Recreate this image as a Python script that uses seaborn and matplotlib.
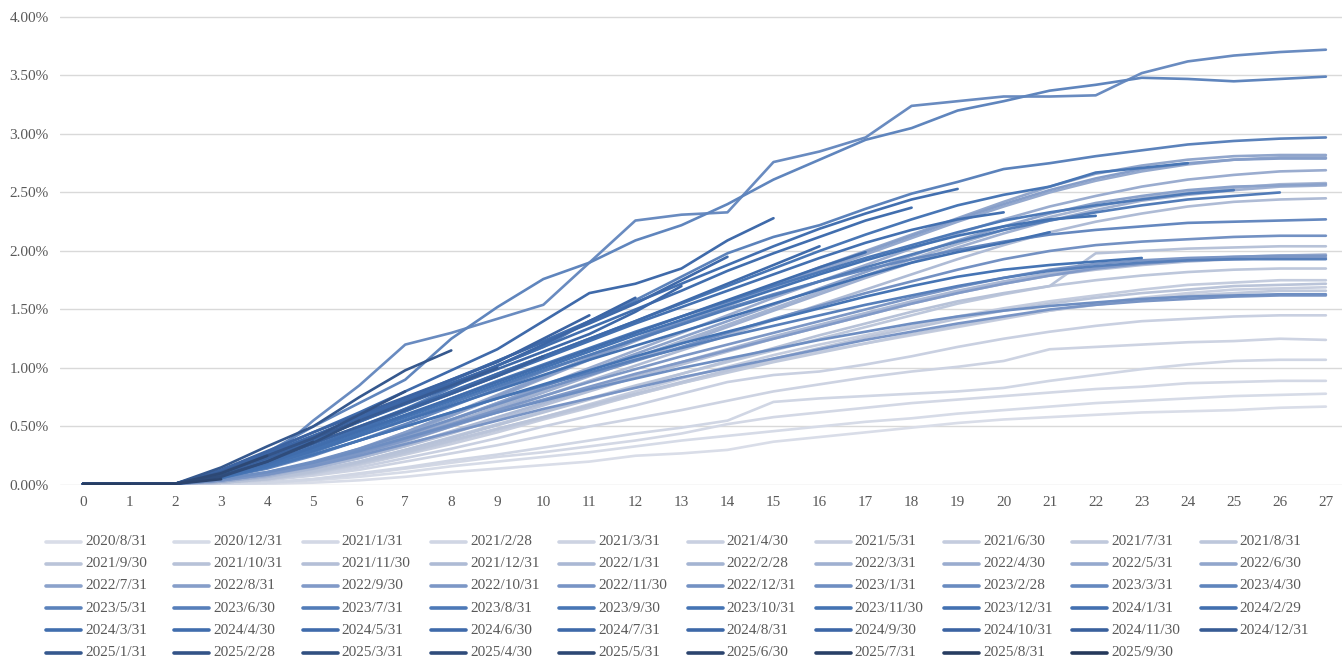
import pandas as pd
import seaborn as sns
import matplotlib.pyplot as plt
from matplotlib.lines import Line2D

# vintage names, in legend order
vintages = ["2020/8/31", "2020/12/31",
            "2021/1/31", "2021/2/28", "2021/3/31", "2021/4/30", "2021/5/31", "2021/6/30",
            "2021/7/31", "2021/8/31", "2021/9/30", "2021/10/31", "2021/11/30", "2021/12/31",
            "2022/1/31", "2022/2/28", "2022/3/31", "2022/4/30", "2022/5/31", "2022/6/30",
            "2022/7/31", "2022/8/31", "2022/9/30", "2022/10/31", "2022/11/30", "2022/12/31",
            "2023/1/31", "2023/2/28", "2023/3/31", "2023/4/30", "2023/5/31", "2023/6/30",
            "2023/7/31", "2023/8/31", "2023/9/30", "2023/10/31", "2023/11/30", "2023/12/31",
            "2024/1/31", "2024/2/29", "2024/3/31", "2024/4/30", "2024/5/31", "2024/6/30",
            "2024/7/31", "2024/8/31", "2024/9/30", "2024/10/31", "2024/11/30", "2024/12/31",
            "2025/1/31", "2025/2/28", "2025/3/31", "2025/4/30", "2025/5/31", "2025/6/30",
            "2025/7/31", "2025/8/31", "2025/9/30"]

# cumulative rate (%) by month on book
curves_2020 = [
    [0.01,0.01,0.01,0.01,0.01,0.02,0.04,0.07,0.11,0.14,0.17,0.20,0.25,0.27,0.30,0.37,0.41,0.45,0.49,0.53,0.56,0.58,0.60,0.62,0.63,0.64,0.66,0.67],
    [0.01,0.01,0.01,0.01,0.02,0.04,0.07,0.11,0.16,0.20,0.24,0.28,0.33,0.38,0.42,0.46,0.50,0.54,0.57,0.61,0.64,0.67,0.70,0.72,0.74,0.76,0.77,0.78],
]
curves_2021 = [
    [0.01,0.01,0.01,0.01,0.02,0.05,0.09,0.14,0.19,0.24,0.28,0.33,0.38,0.44,0.52,0.58,0.62,0.66,0.70,0.73,0.76,0.79,0.82,0.84,0.87,0.88,0.89,0.89],
    [0.01,0.01,0.01,0.01,0.02,0.05,0.10,0.15,0.21,0.26,0.32,0.38,0.44,0.49,0.55,0.71,0.74,0.76,0.78,0.80,0.83,0.89,0.94,0.99,1.03,1.06,1.07,1.07],
    [0.01,0.01,0.01,0.02,0.04,0.08,0.13,0.20,0.27,0.34,0.42,0.50,0.57,0.64,0.72,0.80,0.86,0.92,0.97,1.01,1.06,1.16,1.18,1.20,1.22,1.23,1.25,1.24],
    [0.01,0.01,0.01,0.02,0.04,0.09,0.15,0.23,0.31,0.40,0.50,0.59,0.68,0.78,0.88,0.94,0.97,1.03,1.10,1.18,1.25,1.31,1.36,1.40,1.42,1.44,1.45,1.45],
    [0.01,0.01,0.01,0.02,0.05,0.10,0.17,0.26,0.35,0.45,0.56,0.66,0.77,0.87,0.97,1.06,1.14,1.21,1.28,1.35,1.42,1.49,1.55,1.60,1.64,1.67,1.68,1.69],
    [0.01,0.01,0.01,0.02,0.05,0.11,0.19,0.28,0.38,0.48,0.58,0.69,0.80,0.91,1.01,1.11,1.20,1.28,1.36,1.44,1.51,1.57,1.62,1.67,1.71,1.73,1.75,1.75],
    [0.01,0.01,0.01,0.02,0.05,0.10,0.18,0.27,0.37,0.47,0.57,0.67,0.77,0.87,0.96,1.05,1.13,1.21,1.29,1.36,1.43,1.49,1.54,1.58,1.62,1.64,1.66,1.66],
    [0.01,0.01,0.01,0.02,0.06,0.12,0.20,0.30,0.41,0.52,0.63,0.74,0.85,0.95,1.05,1.15,1.25,1.35,1.45,1.55,1.63,1.70,1.75,1.79,1.82,1.84,1.85,1.85],
    [0.01,0.01,0.01,0.02,0.05,0.11,0.19,0.28,0.38,0.48,0.58,0.68,0.78,0.88,0.98,1.08,1.17,1.26,1.34,1.42,1.49,1.55,1.60,1.64,1.67,1.70,1.71,1.72],
    [0.01,0.01,0.01,0.02,0.06,0.12,0.20,0.30,0.40,0.51,0.62,0.73,0.84,0.95,1.06,1.17,1.28,1.38,1.48,1.57,1.64,1.70,1.98,2.00,2.02,2.03,2.04,2.04],
    [0.01,0.01,0.01,0.03,0.07,0.14,0.23,0.33,0.44,0.56,0.68,0.80,0.92,1.03,1.14,1.25,1.35,1.45,1.55,1.64,1.72,1.79,1.84,1.88,1.91,1.93,1.94,1.95],
    [0.01,0.01,0.01,0.03,0.07,0.15,0.25,0.37,0.50,0.63,0.76,0.89,1.02,1.15,1.28,1.41,1.54,1.67,1.80,1.93,2.05,2.16,2.25,2.32,2.38,2.42,2.44,2.45],
]
curves_2022 = [
    [0.01,0.01,0.01,0.03,0.07,0.14,0.23,0.34,0.46,0.58,0.70,0.82,0.94,1.05,1.16,1.27,1.37,1.47,1.57,1.66,1.74,1.81,1.86,1.90,1.93,1.95,1.96,1.97],
    [0.01,0.01,0.01,0.03,0.08,0.16,0.27,0.40,0.53,0.67,0.81,0.95,1.09,1.23,1.37,1.51,1.65,1.79,1.93,2.06,2.18,2.29,2.38,2.45,2.50,2.54,2.57,2.58],
    [0.01,0.01,0.01,0.03,0.08,0.16,0.26,0.38,0.51,0.65,0.79,0.93,1.07,1.21,1.35,1.49,1.63,1.77,1.90,2.03,2.15,2.26,2.35,2.43,2.48,2.52,2.55,2.56],
    [0.01,0.01,0.01,0.03,0.08,0.17,0.28,0.41,0.55,0.70,0.85,1.00,1.15,1.30,1.45,1.60,1.74,1.88,2.02,2.15,2.27,2.38,2.47,2.55,2.61,2.65,2.68,2.69],
    [0.01,0.01,0.01,0.04,0.09,0.18,0.30,0.44,0.59,0.75,0.91,1.07,1.23,1.38,1.53,1.68,1.83,1.97,2.11,2.25,2.38,2.50,2.60,2.68,2.74,2.78,2.80,2.80],
    [0.01,0.01,0.01,0.04,0.09,0.18,0.30,0.45,0.61,0.77,0.93,1.09,1.25,1.41,1.56,1.71,1.86,2.00,2.14,2.28,2.42,2.55,2.66,2.73,2.78,2.81,2.82,2.82],
    [0.01,0.01,0.01,0.04,0.09,0.18,0.29,0.42,0.56,0.70,0.84,0.98,1.12,1.26,1.40,1.54,1.68,1.82,1.96,2.09,2.21,2.32,2.41,2.47,2.52,2.55,2.56,2.57],
    [0.01,0.01,0.01,0.04,0.10,0.19,0.31,0.45,0.60,0.76,0.92,1.08,1.24,1.40,1.55,1.70,1.85,1.99,2.13,2.27,2.40,2.52,2.62,2.70,2.75,2.78,2.79,2.79],
    [0.01,0.01,0.01,0.04,0.09,0.17,0.27,0.38,0.50,0.62,0.73,0.84,0.95,1.05,1.15,1.25,1.35,1.45,1.55,1.64,1.72,1.79,1.85,1.89,1.92,1.93,1.94,1.94],
    [0.01,0.01,0.01,0.04,0.10,0.18,0.28,0.40,0.52,0.64,0.76,0.88,0.99,1.10,1.20,1.30,1.40,1.50,1.60,1.69,1.77,1.84,1.89,1.92,1.94,1.95,1.96,1.96],
    [0.01,0.01,0.01,0.04,0.09,0.16,0.25,0.35,0.45,0.55,0.65,0.74,0.83,0.92,1.00,1.08,1.16,1.24,1.31,1.38,1.44,1.50,1.54,1.57,1.59,1.61,1.62,1.62],
    [0.01,0.01,0.01,0.05,0.11,0.20,0.31,0.43,0.56,0.69,0.82,0.94,1.06,1.18,1.30,1.42,1.53,1.64,1.74,1.84,1.93,2.00,2.05,2.08,2.10,2.12,2.13,2.13],
]
curves_2023 = [
    [0.01,0.01,0.01,0.05,0.11,0.19,0.29,0.40,0.51,0.62,0.72,0.82,0.91,1.00,1.08,1.16,1.24,1.31,1.38,1.44,1.49,1.53,1.56,1.59,1.61,1.62,1.63,1.63],
    [0.01,0.01,0.01,0.08,0.22,0.55,0.85,1.20,1.30,1.42,1.54,1.90,2.26,2.31,2.33,2.76,2.85,2.97,3.24,3.28,3.32,3.32,3.33,3.52,3.62,3.67,3.70,3.72],
    [0.01,0.01,0.01,0.06,0.14,0.25,0.38,0.52,0.67,0.82,0.97,1.11,1.25,1.38,1.51,1.63,1.74,1.84,1.93,2.01,2.08,2.14,2.18,2.21,2.24,2.25,2.26,2.27],
    [0.01,0.01,0.01,0.10,0.28,0.50,0.70,0.90,1.25,1.52,1.76,1.90,2.09,2.22,2.40,2.61,2.78,2.95,3.05,3.20,3.28,3.37,3.42,3.48,3.47,3.45,3.47,3.49],
    [0.01,0.01,0.01,0.07,0.18,0.32,0.48,0.65,0.83,1.02,1.18,1.40,1.58,1.78,1.98,2.12,2.22,2.36,2.49,2.59,2.70,2.75,2.81,2.86,2.91,2.94,2.96,2.97],
    [0.01,0.01,0.01,0.06,0.15,0.26,0.38,0.50,0.62,0.74,0.85,0.96,1.07,1.17,1.27,1.36,1.45,1.54,1.62,1.70,1.77,1.83,1.87,1.90,1.92,1.93,1.93,1.93],
    [0.01,0.01,0.01,0.06,0.16,0.28,0.42,0.56,0.70,0.84,0.98,1.11,1.24,1.37,1.50,1.62,1.74,1.86,1.97,2.08,2.18,2.26,2.33,2.39,2.44,2.47,2.50],
    [0.01,0.01,0.01,0.07,0.17,0.30,0.44,0.59,0.74,0.89,1.03,1.17,1.31,1.44,1.57,1.70,1.82,1.94,2.05,2.16,2.26,2.33,2.39,2.44,2.49,2.52],
    [0.01,0.01,0.01,0.07,0.18,0.32,0.47,0.63,0.79,0.95,1.10,1.25,1.40,1.55,1.70,1.85,2.00,2.14,2.27,2.39,2.48,2.55,2.67,2.71,2.75],
    [0.01,0.01,0.01,0.06,0.15,0.26,0.38,0.50,0.62,0.74,0.86,0.98,1.10,1.21,1.31,1.41,1.51,1.61,1.70,1.78,1.84,1.88,1.91,1.94],
    [0.01,0.01,0.01,0.07,0.17,0.30,0.44,0.58,0.72,0.86,1.00,1.14,1.28,1.41,1.54,1.67,1.80,1.92,2.03,2.13,2.21,2.27,2.30],
    [0.01,0.01,0.01,0.07,0.17,0.29,0.42,0.55,0.68,0.81,0.94,1.07,1.19,1.31,1.43,1.55,1.67,1.79,1.90,1.99,2.07,2.16],
]
curves_2024 = [
    [0.01,0.01,0.01,0.08,0.19,0.33,0.48,0.63,0.78,0.93,1.08,1.23,1.38,1.52,1.66,1.80,1.94,2.07,2.18,2.27,2.33],
    [0.01,0.01,0.01,0.09,0.22,0.38,0.55,0.72,0.89,1.06,1.23,1.40,1.56,1.72,1.88,2.04,2.19,2.32,2.44,2.53],
    [0.01,0.01,0.01,0.09,0.22,0.38,0.54,0.70,0.86,1.02,1.18,1.34,1.50,1.66,1.83,1.98,2.12,2.26,2.37],
    [0.01,0.01,0.01,0.08,0.19,0.32,0.46,0.60,0.74,0.88,1.02,1.16,1.30,1.44,1.58,1.72,1.86,1.99],
    [0.01,0.01,0.01,0.09,0.21,0.35,0.50,0.65,0.80,0.95,1.10,1.25,1.40,1.56,1.72,1.88,2.04],
    [0.01,0.01,0.01,0.12,0.28,0.45,0.62,0.80,0.98,1.16,1.40,1.64,1.72,1.85,2.09,2.28],
    [0.01,0.01,0.01,0.11,0.26,0.42,0.58,0.74,0.90,1.06,1.22,1.38,1.55,1.75,1.95],
    [0.01,0.01,0.01,0.10,0.24,0.39,0.54,0.69,0.84,0.99,1.14,1.29,1.48,1.70],
    [0.01,0.01,0.01,0.12,0.27,0.42,0.57,0.72,0.87,1.02,1.20,1.40,1.60],
    [0.01,0.01,0.01,0.13,0.29,0.45,0.60,0.75,0.90,1.05,1.25,1.45],
    [0.01,0.01,0.01,0.10,0.23,0.36,0.50,0.64,0.78,0.93,1.10],
    [0.01,0.01,0.01,0.11,0.25,0.40,0.55,0.70,0.85,1.00],
]
curves_2025 = [
    [0.01,0.01,0.01,0.15,0.33,0.50,0.75,0.98,1.15],
    [0.01,0.01,0.01,0.10,0.25,0.40,0.60,0.80],
    [0.01,0.01,0.01,0.08,0.20,0.36,0.55],
    [0.01,0.01,0.01,0.07,0.20,0.37],
    [0.01,0.01,0.01,0.10,0.25],
    [0.01,0.01,0.01,0.05],
    [0.01,0.01,0.01],
    [0.01,0.01],
    [0.01],
]

all_curves = curves_2020 + curves_2021 + curves_2022 + curves_2023 + curves_2024 + curves_2025

rows = []
for name, vals in zip(vintages, all_curves):
    for m, v in enumerate(vals):
        rows.append({"vintage": name, "month": m, "rate": v})
df = pd.DataFrame(rows)

sns.set_style("white")
plt.rcParams["font.family"] = ["Liberation Serif", "DejaVu Serif"]

pal = sns.blend_palette(["#d9dde8", "#b5c0d7", "#7b96c6", "#4574b4", "#3c66a6", "#25395b"],
                        n_colors=len(vintages))

W, H = 1344, 659
fig = plt.figure(figsize=(W / 100, H / 100), dpi=100)
ax = fig.add_axes([60 / W, 174 / H, 1282 / W, 469 / H])

sns.lineplot(data=df, x="month", y="rate", hue="vintage", hue_order=vintages,
             palette=pal, linewidth=1.9, legend=False, ax=ax, sort=False)

ax.set_xlim(-0.5, 27.35)
ax.set_ylim(0, 4.008)
ax.set_yticks([0, 0.5, 1.0, 1.5, 2.0, 2.5, 3.0, 3.5, 4.0])
ax.set_yticklabels(["%.2f%%" % t for t in ax.get_yticks()])
ax.set_xticks(range(28))
ax.set_xlabel("")
ax.set_ylabel("")
ax.grid(axis="y", color="#d9d9d9", linewidth=1)
ax.grid(axis="x", visible=False)
for s in ax.spines.values():
    s.set_visible(False)
ax.tick_params(axis="both", length=0, labelsize=11, colors="#595959")
ax.tick_params(axis="x", pad=8)
ax.tick_params(axis="y", pad=8)

# legend: 10 columns, row-major order, drawn by hand
for i, name in enumerate(vintages):
    r, c = divmod(i, 10)
    x0 = 46 + c * 128.3
    y0 = 541.5 + r * 22.2
    fig.add_artist(Line2D([x0 / W, (x0 + 35) / W], [1 - y0 / H, 1 - y0 / H],
                          color=pal[i], linewidth=2.6, transform=fig.transFigure))
    fig.text((x0 + 39) / W, 1 - y0 / H, name, fontsize=11, color="#595959",
             va="center", ha="left")

fig.savefig("out.png", dpi=100)
